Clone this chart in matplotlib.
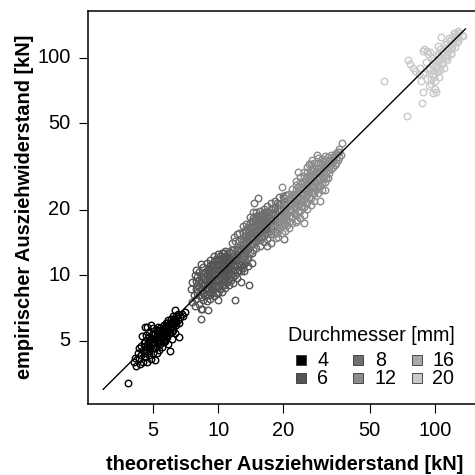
import matplotlib
matplotlib.use("Agg")
import matplotlib.pyplot as plt
from matplotlib.lines import Line2D

plt.rcParams['font.family'] = ['Liberation Sans', 'DejaVu Sans']

legend_title = "Durchmesser [mm]"
diameters = ["4", "6", "8", "12", "16", "20"]
greys = ["#000000", "#555555", "#6e6e6e", "#8c8c8c", "#a9a9a9", "#c9c9c9"]
x_ticks = [5, 10, 20, 50, 100]
y_ticks = [5, 10, 20, 50, 100]
line_x = [2.95, 138]
line_y = [2.98, 136]

x4 = [3.85,4.1,4.15,4.2,4.25,4.3,4.3,4.35,4.4,4.4,
      4.45,4.5,4.5,4.55,4.6,4.6,4.65,4.65,4.7,4.7,
      4.75,4.8,4.8,4.85,4.85,4.9,4.9,4.95,5.0,5.0,
      5.0,5.05,5.1,5.1,5.15,5.2,5.2,5.25,5.3,5.3,
      5.35,5.4,5.4,5.45,5.5,5.5,5.55,5.6,5.6,5.65,
      5.7,5.7,5.75,5.8,5.8,5.85,5.9,5.9,5.95,6.0,
      6.0,6.05,6.1,6.1,6.15,6.2,6.2,6.25,6.3,6.3,
      6.35,6.4,6.5,6.5,6.6,6.6,6.7,6.8,6.9,7.0]
y4 = [3.2,4.0,4.15,3.8,4.4,4.1,4.6,3.9,4.7,4.3,
      5.25,4.0,4.5,4.85,5.75,4.2,5.3,4.55,5.8,4.0,
      4.9,4.3,5.5,4.6,5.1,4.1,5.9,4.8,4.4,5.3,
      5.7,4.9,4.05,4.6,5.2,4.4,5.6,4.85,5.05,5.8,
      4.5,5.3,4.8,5.0,5.5,4.65,5.85,5.2,4.9,5.7,
      5.4,5.0,6.0,5.6,5.2,4.8,5.9,6.2,5.4,4.45,
      5.7,6.3,5.1,6.0,5.5,6.5,5.8,6.1,6.9,5.4,
      6.3,5.9,6.6,6.2,5.2,6.0,6.4,6.6,6.5,6.75]
core4_x = [4.6,4.8,5.0,5.2,5.4,5.6,5.8,6.0,6.2,6.4]
core4_y = [[4.4,4.7,5.0],[4.45,4.7,4.95,5.2],[4.6,4.85,5.1,5.4],[4.7,5.0,5.3,5.55],
           [4.9,5.15,5.45,5.7],[5.05,5.35,5.6,5.9],[5.3,5.5,5.8,6.05],[5.5,5.8,6.05],
           [5.6,5.95,6.3],[6.1,6.45]]

x6 = [7.5,7.6,7.6,7.7,7.8,7.8,7.9,7.9,7.9,7.9,
      8.2,8.2,8.2,8.2,8.2,8.3,8.3,8.5,8.5,8.5,8.5,8.5,8.5,
      8.9,8.9,8.9,8.9,8.9,8.9,8.9,9.2,9.2,9.2,9.2,9.2,9.2,9.2,9.2,
      9.6,9.6,9.6,9.6,9.6,9.6,9.6,9.6,10,10,10,10,10,10,10,10,10,
      10.4,10.4,10.4,10.4,10.4,10.4,10.4,10.4,10.8,10.8,10.8,10.8,10.8,10.8,10.8,10.8,
      11.2,11.2,11.2,11.2,11.2,11.2,11.2,11.7,11.7,11.7,11.7,11.7,11.7,11.7,
      12.2,12.2,12.2,12.2,12.2,12.2,12.7,12.7,12.7,12.7,12.7,13.2,13.2,13.2,13.2,
      13.7,13.7,13.7,14.3,14.3,8.3,8.4,9.0,12.0,13.8]
y6 = [8.6,7.5,9.3,8.1,10.0,7.2,7.8,8.6,9.4,10.6,
      7.4,8.1,8.8,9.5,10.3,11.2,7.0,7.7,8.3,8.9,9.6,10.2,10.9,
      7.6,8.2,8.8,9.4,10.0,10.6,11.4,7.8,8.3,8.9,9.4,10.0,10.6,11.1,11.7,
      8.0,8.6,9.2,9.8,10.4,11.0,11.6,12.2,7.7,8.3,8.9,9.5,10.1,10.7,11.3,11.9,12.5,
      8.4,9.0,9.6,10.2,10.8,11.4,12.0,12.7,8.7,9.3,9.9,10.5,11.1,11.7,12.3,12.9,
      9.0,9.6,10.2,10.8,11.4,12.0,12.8,9.2,9.8,10.4,11.0,11.6,12.2,13.1,
      9.7,10.3,11.0,11.7,12.4,13.2,9.3,10.4,11.2,12.0,13.0,10.5,11.3,12.2,13.4,
      11.0,12.0,13.2,11.4,12.6,6.3,7.0,6.9,7.7,9.0]
core6_x = [8.0,8.35,8.7,9.05,9.4,9.8,10.2,10.6,11.0,11.45,11.95,12.45,12.95,13.45]
core6_y = [[8.3,9.0,9.8],[7.9,8.5,9.2,9.9],[8.0,8.6,9.1,9.7,10.3],[8.1,8.6,9.1,9.7,10.3,10.8],
           [8.3,8.9,9.5,10.1,10.7,11.3],[8.3,8.9,9.5,10.1,10.7,11.3,11.9],
           [8.6,9.2,9.8,10.4,11.0,11.6,12.2],[9.0,9.6,10.2,10.8,11.4,12.0,12.6],
           [9.3,9.9,10.5,11.1,11.7,12.3],[9.5,10.1,10.7,11.3,11.9,12.6],
           [10.0,10.6,11.3,12.0,12.7],[10.6,11.4,12.2,13.0],[10.8,11.7,12.6,13.4],[11.5,12.5]]

x8 = [11.5,11.6,11.8,12.0,12.0,12.2,12.5,12.5,12.5,12.5,
      13.0,13.0,13.0,13.0,13.0,13.0,13.5,13.5,13.5,13.5,13.5,13.5,
      14.0,14.0,14.0,14.0,14.0,14.0,14.0,14.5,14.5,14.5,14.5,14.5,14.5,14.5,14.5,
      15,15,15,15,15,15,15,15,15.6,15.6,15.6,15.6,15.6,15.6,15.6,15.6,
      16.2,16.2,16.2,16.2,16.2,16.2,16.2,16.8,16.8,16.8,16.8,16.8,16.8,16.8,
      17.5,17.5,17.5,17.5,17.5,17.5,18.2,18.2,18.2,18.2,18.2,18.2,
      19,19,19,19,19,19.8,19.8,19.8,19.8,20.6,20.6,20.6,21.5,21.5,22.5,
      14.6,15.2,13.6,16.8,17.6,20.2,18.7]
y8 = [13.0,14.0,15.0,12.6,14.4,15.4,12.2,13.2,14.3,15.6,
      12.0,12.9,13.8,14.7,15.6,16.8,12.4,13.3,14.2,15.1,16.0,17.2,
      12.8,13.7,14.6,15.5,16.4,17.3,18.5,13.0,13.9,14.8,15.7,16.6,17.5,18.4,19.5,
      13.4,14.3,15.2,16.1,17.0,17.9,18.8,19.6,13.6,14.5,15.4,16.3,17.2,18.1,19.0,19.8,
      14.2,15.2,16.2,17.2,18.2,19.2,20.2,14.6,15.6,16.6,17.6,18.6,19.6,20.8,
      15.4,16.6,17.8,19.0,20.2,21.6,15.8,17.0,18.2,19.4,20.6,22.0,
      17.0,18.4,19.8,21.2,22.8,18.0,19.6,21.2,23.2,19.0,21.0,23.4,20.2,22.6,21.8,
      21.6,22.6,12.0,13.6,14.0,14.6,15.6]
core8_x = [12.75,13.25,13.75,14.25,14.75,15.3,15.9,16.5,17.15,17.85,18.6,19.4,20.2]
core8_y = [[13.6,14.6],[13.4,14.3,15.2,16.2],[13.8,14.7,15.6,16.6],[14.0,14.9,15.8,16.8,17.8],
           [14.4,15.3,16.2,17.2,18.2],[14.8,15.8,16.8,17.8,18.8],[15.0,16.0,17.0,18.0,19.0],
           [15.6,16.6,17.6,18.6,19.6],[16.0,17.2,18.4,19.6],[16.8,18.0,19.2,20.4],
           [17.6,18.8,20.0,21.4],[18.6,20.0,21.6],[19.6,21.2,22.6]]

x12 = [18,18,18,18.8,18.8,18.8,18.8,19.6,19.6,19.6,19.6,19.6,
       20.4,20.4,20.4,20.4,20.4,20.4,21.2,21.2,21.2,21.2,21.2,21.2,21.2,
       22,22,22,22,22,22,22,22.8,22.8,22.8,22.8,22.8,22.8,22.8,22.8,
       23.8,23.8,23.8,23.8,23.8,23.8,23.8,23.8,24.8,24.8,24.8,24.8,24.8,24.8,24.8,24.8,
       25.8,25.8,25.8,25.8,25.8,25.8,25.8,25.8,26.8,26.8,26.8,26.8,26.8,26.8,26.8,26.8,
       27.8,27.8,27.8,27.8,27.8,27.8,27.8,29,29,29,29,29,29,29,
       30,30,30,30,30,30,31,31,31,31,31,32,32,32,32,33.2,33.2,33.2,
       34.5,34.5,35.8,35.8,37,37.3,
       20.8,23,25,31,29.5,23.4,19.7,26.2,28.6,27,18.4]
y12 = [15.5,16.5,17.5,15,16.2,17.4,18.6,15.6,16.8,18,19.2,20.6,
       16,17.2,18.4,19.6,20.8,22.2,16.4,17.6,18.8,20,21.2,22.4,23.6,
       17.4,18.6,19.8,21,22.2,23.4,24.8,17.6,19,20.4,21.8,23.2,24.6,26,27.2,
       18.4,19.8,21.2,22.6,24,25.4,26.8,28.2,19,20.6,22.2,23.8,25.4,27,28.6,30,
       20.2,21.8,23.4,25,26.6,28.2,29.8,31.4,21,22.6,24.2,25.8,27.4,29,30.6,32.4,
       22,23.8,25.6,27.4,29.2,31,33,24,25.8,27.6,29.4,31.2,33,34.8,
       24.6,26.6,28.6,30.6,32.6,34.4,26.8,29,31.2,33.2,35.2,28,30.4,32.8,35,30.8,33,35.6,
       32,35.6,34,37,35.6,40.5,
       17,18,17.4,24.6,22,29.8,25.4,32.6,35.7,33.8,14.8]
core12_x = [20.0,20.8,21.6,22.4,23.3,24.3,25.3,26.3,27.3,28.4,29.5,30.5,31.5,32.6,33.8,35.1,36.2]
core12_y = [[17.2,18.4,19.6],[18.0,19.2,20.4],[18.6,20.0,21.4,22.8],[19.4,20.8,22.2,23.6],
            [19.8,21.2,22.6,24.0,25.4],[20.6,22.0,23.4,24.8,26.2],[21.6,23.0,24.6,26.2,27.8],
            [22.6,24.2,25.8,27.4,29.0],[23.8,25.4,27.0,28.6,30.2],[24.8,26.6,28.4,30.2],
            [25.8,27.6,29.4,31.2,32.8],[27.6,29.6,31.6,33.4],[28.0,30.0,32.0,34.0],
            [29.6,31.6,33.6],[31.6,33.6,35.0],[33.0,34.8,36.4],[35.0,36.8,38.2]]

x16 = []
y16 = []

x20 = [58,74,87,88,101,100,98,75,77,79,81,88,92,95,
       84,86,90,92,94,96,98,100,102,104,106,108,110,112,
       85,88,91,94,97,100,103,106,109,112,115,118,121,124,
       93,96,99,102,105,108,111,114,117,120,123,126,129,135,
       107,103,116,122,128,133,99,94,89]
y20 = [78,54,62,70,70,72,69,98,94,90,87,108,108,107,
       84,78,86,80,90,76,84,78,92,82,88,96,90,100,
       90,84,96,88,100,92,104,98,108,102,112,106,118,124,
       104,80,98,86,110,94,116,104,120,112,126,118,130,126,
       125,113,124,130,133,128,82,74,110]
core20_x = [98,103,108,113,118,123,127]
core20_y = [[88,94],[90,96,102],[94,100,106],[98,104,110,116],[104,110,116,122],
            [112,118,124,130],[120,126,131]]


def merged(xs, ys, core_x, core_y):
    out_x, out_y = list(xs), list(ys)
    for cx, cys in zip(core_x, core_y):
        for cy in cys:
            out_x.append(cx)
            out_y.append(cy)
    return out_x, out_y


x4_all, y4_all = merged(x4, y4, core4_x, core4_y)
x6_all, y6_all = merged(x6, y6, core6_x, core6_y)
x8_all, y8_all = merged(x8, y8, core8_x, core8_y)
x12_all, y12_all = merged(x12, y12, core12_x, core12_y)
x20_all, y20_all = merged(x20, y20, core20_x, core20_y)

series_x = [x4_all, x6_all, x8_all, x12_all, x16, x20_all]
series_y = [y4_all, y6_all, y8_all, y12_all, y16, y20_all]

fig = plt.figure(figsize=(4.75, 4.75), dpi=100)
ax = fig.add_axes([88/475, (475-404)/475, (482-88)/475, (404-11)/475])
ax.set_xscale("log")
ax.set_yscale("log")
ax.set_xlim(2.51, 164.7)
ax.set_ylim(2.55, 164.6)

for xs, ys, col in zip(series_x, series_y, greys):
    ax.plot(xs, ys, ls="none", marker="o", ms=4.7, mew=1.0, mfc="none", mec=col)
ax.plot(line_x, line_y, color="black", lw=1.0)

ax.minorticks_off()
ax.set_xticks(x_ticks)
ax.set_xticklabels([str(t) for t in x_ticks], fontsize=14.4)
ax.set_yticks(y_ticks)
ax.set_yticklabels([str(t) for t in y_ticks], fontsize=14.4, va="center")
ax.tick_params(axis="both", which="major", length=6.5, width=0.8, pad=6)
for s in ax.spines.values():
    s.set_linewidth(1.1)

fig.text(285/475, 1-464.5/475, "theoretischer Ausziehwiderstand [kN]", fontsize=14.4,
         fontweight="bold", ha="center", va="center")
fig.text(25/475, 1-207/475, "empirischer Ausziehwiderstand [kN]", fontsize=14.4,
         fontweight="bold", ha="center", va="center", rotation=90)

fig.text(371.5/475, 1-335.5/475, legend_title, fontsize=14.2, ha="center", va="center")
sq_x = [301, 301, 358, 358, 417, 417]
sq_y = [360, 378, 360, 378, 360, 378]
lab_x = [317, 317, 375, 375, 432, 432]
for name, col, sx, sy, lx in zip(diameters, greys, sq_x, sq_y, lab_x):
    fig.add_artist(Line2D([sx/475], [1-sy/475], transform=fig.transFigure, ls="none", marker="s",
                          ms=7.3, mfc=col, mec="#333333", mew=0.6))
    fig.text(lx/475, 1-sy/475, name, fontsize=14.2, ha="left", va="center")
fig.savefig("out.png", dpi=100)
